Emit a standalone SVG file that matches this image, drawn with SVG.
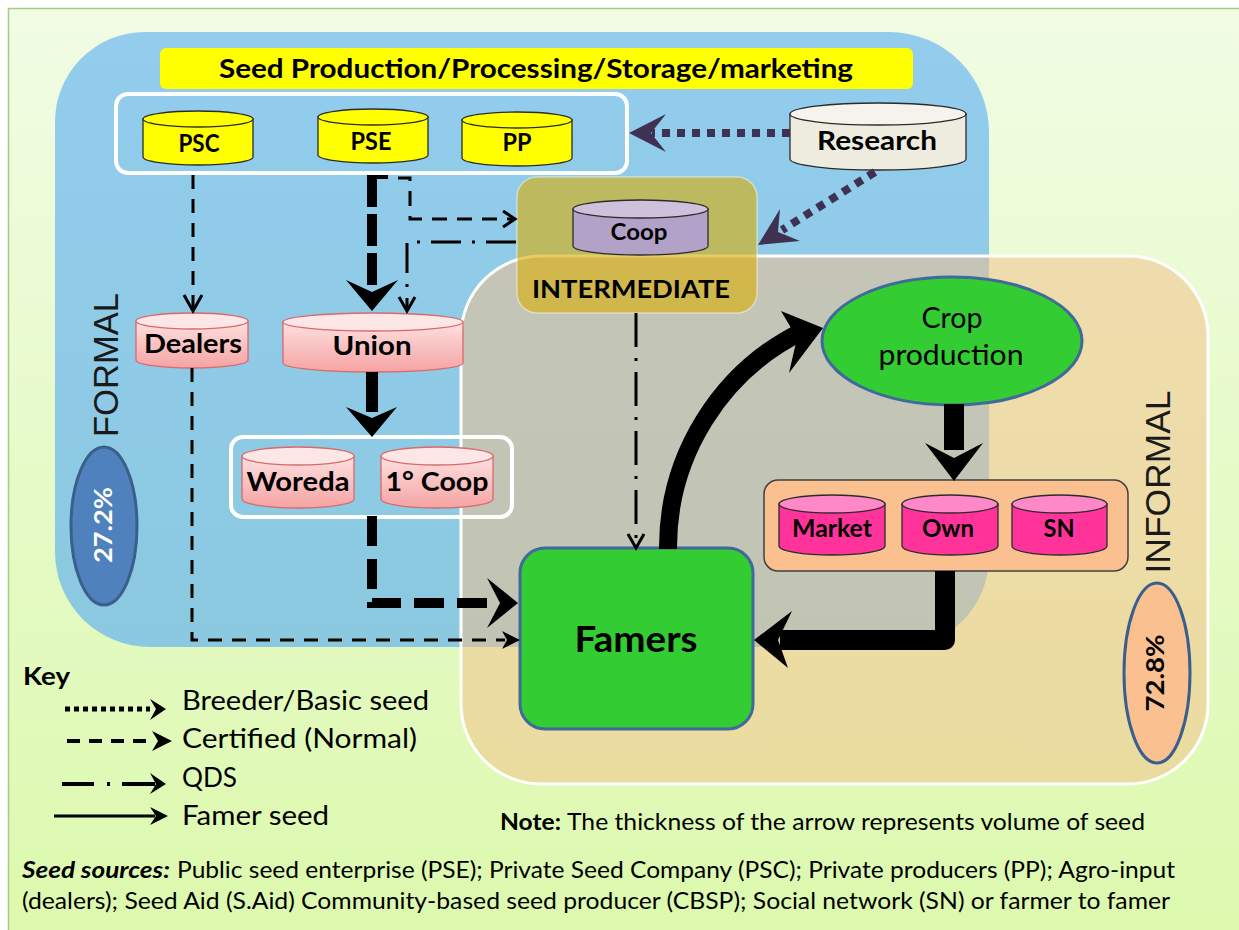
<svg xmlns="http://www.w3.org/2000/svg" width="1239" height="930" viewBox="0 0 1239 930">
  <defs>
    <linearGradient id="bg" x1="0" y1="0" x2="0" y2="1">
      <stop offset="0" stop-color="#f1fce4"/>
      <stop offset="1" stop-color="#dcf9ad"/>
    </linearGradient>
    <linearGradient id="blueFill" x1="0" y1="0" x2="0" y2="1">
      <stop offset="0" stop-color="#93cced"/>
      <stop offset="1" stop-color="#8bc9e0"/>
    </linearGradient>
    <linearGradient id="pinkBody" x1="0" y1="0" x2="0" y2="1">
      <stop offset="0" stop-color="#fde0e0"/>
      <stop offset="1" stop-color="#f6a3a3"/>
    </linearGradient>
    <style>
      .lbl { font-family: Lato, "Liberation Sans", sans-serif; font-weight: bold; fill: #000; text-anchor: middle; }
      .reg { font-family: Lato, "Liberation Sans", sans-serif; font-weight: normal; fill: #000; }
      .side { font-family: "Liberation Sans", Arial, sans-serif; font-weight: normal; fill: #1a1a1a; text-anchor: middle; }
      .yel { fill: #ffff00; stroke: #2b2b2b; stroke-width: 1.3; }
      .pinkB { fill: url(#pinkBody); stroke: #d86a6a; stroke-width: 1.3; }
      .pinkT { fill: #fde6e6; stroke: #d86a6a; stroke-width: 1.3; }
      .magB { fill: #ff3399; stroke: #2b2b2b; stroke-width: 1.3; }
      .magT { fill: #ff88c8; stroke: #2b2b2b; stroke-width: 1.3; }
      .ln { fill: none; stroke: #000; }
      .head { fill: #000; }
      .chev { fill: none; stroke: #000; stroke-width: 3; stroke-linejoin: miter; }
      .res { fill: none; stroke: #3f3151; stroke-width: 8; stroke-dasharray: 8 7; }
    </style>
  </defs>

  <!-- page background -->
  <rect x="0" y="0" width="1239" height="930" fill="#ffffff"/>
  <rect x="8.5" y="8.5" width="1240" height="930" fill="url(#bg)" stroke="#a3cc85" stroke-width="1.5"/>

  <!-- FORMAL region -->
  <g id="formal-region">
    <path d="M145 32 H889 A100 100 0 0 1 989 132 V557 A90 90 0 0 1 899 647 H150 A95 95 0 0 1 55 552 V122 A90 90 0 0 1 145 32 Z" fill="url(#blueFill)"/>
  </g>

  <!-- INFORMAL region (translucent, overlaps the formal one) -->
  <g id="informal-region">
    <rect x="461" y="256" width="747" height="528" rx="80" ry="80" fill="rgb(244,192,138)" fill-opacity="0.52" stroke="#ffffff" stroke-width="3"/>
  </g>

  <!-- INTERMEDIATE region -->
  <g id="intermediate">
    <rect x="517" y="177" width="240" height="136" rx="20" ry="20" fill="rgb(216,174,10)" fill-opacity="0.62" stroke="#ffffff" stroke-opacity="0.45" stroke-width="1.5"/>
    <text class="lbl" x="631" y="298" font-size="25" textLength="198" lengthAdjust="spacingAndGlyphs">INTERMEDIATE</text>
  </g>

  <!-- side labels -->
  <g id="formal-label">
    <text class="side" transform="translate(118,365) rotate(-90)" font-size="35" textLength="144" lengthAdjust="spacingAndGlyphs">FORMAL</text>
    <ellipse cx="104" cy="526" rx="33" ry="79" fill="#4f81bd" stroke="#3b5f8c" stroke-width="3"/>
    <text class="lbl" transform="translate(112,525) rotate(-90)" font-size="25" fill="#ffffff" style="fill:#ffffff" textLength="76" lengthAdjust="spacingAndGlyphs">27.2%</text>
  </g>
  <g id="informal-label">
    <text class="side" transform="translate(1170,482) rotate(-90)" font-size="35" textLength="183" lengthAdjust="spacingAndGlyphs">INFORMAL</text>
    <ellipse cx="1157" cy="673" rx="33" ry="90" fill="#fac090" stroke="#3b5f8c" stroke-width="3"/>
    <text class="lbl" transform="translate(1164,673) rotate(-90)" font-size="25" textLength="77" lengthAdjust="spacingAndGlyphs">72.8%</text>
  </g>

  <!-- title bar -->
  <g id="title">
    <rect x="160" y="48" width="753" height="41" rx="6" ry="6" fill="#ffff00"/>
    <text class="lbl" x="536" y="78" font-size="27" textLength="634" lengthAdjust="spacingAndGlyphs">Seed Production/Processing/Storage/marketing</text>
  </g>

  <!-- producers group -->
  <g id="producers">
    <rect x="116" y="94" width="511" height="79" rx="12" ry="12" fill="none" stroke="#ffffff" stroke-width="4"/>
    <g id="psc">
      <path class="yel" d="M143 119 V157 A55 8 0 0 0 253 157 V119 Z"/>
      <ellipse class="yel" cx="198" cy="119" rx="55" ry="8"/>
      <text class="lbl" x="199" y="152" font-size="25" textLength="41" lengthAdjust="spacingAndGlyphs">PSC</text>
    </g>
    <g id="pse">
      <path class="yel" d="M318 117 V155 A55 8 0 0 0 428 155 V117 Z"/>
      <ellipse class="yel" cx="373" cy="117" rx="55" ry="8"/>
      <text class="lbl" x="371" y="150" font-size="25" textLength="41" lengthAdjust="spacingAndGlyphs">PSE</text>
    </g>
    <g id="pp">
      <path class="yel" d="M462 120 V158 A55 8 0 0 0 572 158 V120 Z"/>
      <ellipse class="yel" cx="517" cy="120" rx="55" ry="8"/>
      <text class="lbl" x="517" y="151" font-size="25" textLength="29" lengthAdjust="spacingAndGlyphs">PP</text>
    </g>
  </g>

  <g id="research">
    <path d="M790 114 V159 A88 11 0 0 0 966 159 V114 Z" fill="#eeebdf" stroke="#2b2b2b" stroke-width="1.3"/>
    <ellipse cx="878" cy="114" rx="88" ry="11" fill="#f5f3ec" stroke="#2b2b2b" stroke-width="1.3"/>
    <text class="lbl" x="877" y="150" font-size="27" textLength="120" lengthAdjust="spacingAndGlyphs">Research</text>
  </g>

  <g id="coop">
    <path d="M573 209 V246 A67.5 9 0 0 0 708 246 V209 Z" fill="#b3a2c7" stroke="#2b2b2b" stroke-width="1.3"/>
    <ellipse cx="640.5" cy="209" rx="67.5" ry="9" fill="#cdc1dc" stroke="#2b2b2b" stroke-width="1.3"/>
    <text class="lbl" x="639" y="240" font-size="23" textLength="57" lengthAdjust="spacingAndGlyphs">Coop</text>
  </g>

  <g id="dealers">
    <path class="pinkB" d="M136 321 V360 A56 8 0 0 0 248 360 V321 Z"/>
    <ellipse class="pinkT" cx="192" cy="321" rx="56" ry="8"/>
    <text class="lbl" x="193" y="353" font-size="27" textLength="98" lengthAdjust="spacingAndGlyphs">Dealers</text>
  </g>

  <g id="union">
    <path class="pinkB" d="M283 322 V363 A90 9 0 0 0 463 363 V322 Z"/>
    <ellipse class="pinkT" cx="373" cy="322" rx="90" ry="9"/>
    <text class="lbl" x="372" y="355" font-size="27" textLength="79" lengthAdjust="spacingAndGlyphs">Union</text>
  </g>

  <g id="woreda-coop">
    <rect x="231" y="437" width="281" height="80" rx="12" ry="12" fill="none" stroke="#ffffff" stroke-width="4"/>
    <g id="woreda">
      <path class="pinkB" d="M242 456 V499 A56 9 0 0 0 354 499 V456 Z"/>
      <ellipse class="pinkT" cx="298" cy="456" rx="56" ry="9"/>
      <text class="lbl" x="298" y="491" font-size="27" textLength="103" lengthAdjust="spacingAndGlyphs">Woreda</text>
    </g>
    <g id="primary-coop">
      <path class="pinkB" d="M381 456 V499 A56 9 0 0 0 493 499 V456 Z"/>
      <ellipse class="pinkT" cx="437" cy="456" rx="56" ry="9"/>
      <text class="lbl" x="437" y="491" font-size="27" textLength="103" lengthAdjust="spacingAndGlyphs">1° Coop</text>
    </g>
  </g>

  <g id="crop-production">
    <ellipse cx="952" cy="341" rx="130" ry="64" fill="#33cc33" stroke="#41699a" stroke-width="3"/>
    <text class="reg" x="952" y="328" font-size="28" text-anchor="middle" textLength="61" lengthAdjust="spacingAndGlyphs">Crop</text>
    <text class="reg" x="951" y="365" font-size="28" text-anchor="middle" textLength="145" lengthAdjust="spacingAndGlyphs">production</text>
  </g>

  <g id="informal-sources">
    <rect x="764" y="480" width="364" height="91" rx="14" ry="14" fill="#fac090" stroke="#404040" stroke-width="1.5"/>
    <g id="market">
      <path class="magB" d="M779 504 V546 A53 9 0 0 0 885 546 V504 Z"/>
      <ellipse class="magT" cx="832" cy="504" rx="53" ry="9"/>
      <text class="lbl" x="832" y="537" font-size="24" textLength="80" lengthAdjust="spacingAndGlyphs">Market</text>
    </g>
    <g id="own">
      <path class="magB" d="M902 504 V546 A48 9 0 0 0 998 546 V504 Z"/>
      <ellipse class="magT" cx="950" cy="504" rx="48" ry="9"/>
      <text class="lbl" x="948" y="537" font-size="24" textLength="52" lengthAdjust="spacingAndGlyphs">Own</text>
    </g>
    <g id="sn">
      <path class="magB" d="M1012 504 V546 A47.5 9 0 0 0 1107 546 V504 Z"/>
      <ellipse class="magT" cx="1059.5" cy="504" rx="47.5" ry="9"/>
      <text class="lbl" x="1059" y="537" font-size="24" textLength="31" lengthAdjust="spacingAndGlyphs">SN</text>
    </g>
  </g>

  <g id="famers">
    <rect x="520" y="548" width="233" height="181" rx="25" ry="25" fill="#33cc33" stroke="#41699a" stroke-width="3"/>
    <text class="lbl" x="636" y="652" font-size="36" textLength="123" lengthAdjust="spacingAndGlyphs">Famers</text>
  </g>

  <!-- flows -->
  <g id="connectors">
    <!-- breeder / basic seed from research -->
    <line class="res" x1="790" y1="133" x2="652" y2="133"/>
    <polygon points="629,133 666,114 651,133 666,152" fill="#3f3151"/>
    <line class="res" x1="875" y1="172" x2="782" y2="230"/>
    <polygon points="758,245 780,209 778,232 800,241" fill="#3f3151"/>

    <!-- PSC to dealers (certified) -->
    <path class="ln" d="M193 175 V309" stroke-width="3" stroke-dasharray="14 10"/>
    <polyline class="chev" points="184,295 193,311 202,295"/>

    <!-- PSE to union (certified, high volume) -->
    <line class="ln" x1="367" y1="177" x2="388" y2="177" stroke-width="4"/>
    <path class="ln" d="M372 175 V292" stroke-width="10" stroke-dasharray="32 7"/>
    <polygon class="head" points="372,311 346,280 372,292 398,280"/>

    <!-- PSE to coop (certified) -->
    <path class="ln" d="M398 178 H410 V219 H512" stroke-width="3" stroke-dasharray="15 10"/>
    <polyline class="chev" points="503,211 515,219 503,227"/>

    <!-- coop to union (QDS) -->
    <path class="ln" d="M516 242 H407 V308" stroke-width="3" stroke-dasharray="30 11 3 11"/>
    <polyline class="chev" points="399,297 407,311 415,297"/>

    <!-- intermediate to famers (QDS) -->
    <path class="ln" d="M636 313 V545" stroke-width="3" stroke-dasharray="34 11 3 11"/>
    <polyline class="chev" points="628,534 636,548 644,534"/>

    <!-- union to woreda / primary coop -->
    <path class="ln" d="M372 372 V412" stroke-width="12"/>
    <polygon class="head" points="372,437 346,407 372,418 397,407"/>

    <!-- woreda / primary coop to famers -->
    <path class="ln" d="M372 516 V603 H495" stroke-width="10" stroke-dasharray="30 13"/>
    <polygon class="head" points="518,603 487,578 500,603 487,628"/>

    <!-- dealers to famers -->
    <path class="ln" d="M192 368 V640 H505" stroke-width="3" stroke-dasharray="14 10"/>
    <polygon class="head" points="520,640 502,631 507,640 502,649"/>

    <!-- famers to crop production (farmer seed) -->
    <path class="ln" d="M668 549 A241 241 0 0 1 803 331" stroke-width="18"/>
    <polygon class="head" points="823,328 781,311 797,338 789,373"/>

    <!-- crop production to market / own / SN -->
    <path class="ln" d="M954 404 V450" stroke-width="20"/>
    <polygon class="head" points="954,481 925,443 954,458 983,443"/>

    <!-- market / own / SN back to famers -->
    <path class="ln" d="M945 571 V640 H780" stroke-width="20" stroke-linejoin="round"/>
    <polygon class="head" points="754,640 792,611 778,640 788,668"/>
  </g>

  <!-- legend -->
  <g id="key">
    <text class="reg" x="23" y="685" font-size="25" font-weight="bold" style="font-weight:bold" textLength="47" lengthAdjust="spacingAndGlyphs">Key</text>

    <line class="ln" x1="65" y1="709" x2="150" y2="709" stroke-width="5" stroke-dasharray="5 4"/>
    <polygon class="head" points="150,699 166,709 150,720 156,709"/>
    <text class="reg" x="182" y="710" font-size="26" textLength="247" lengthAdjust="spacingAndGlyphs">Breeder/Basic seed</text>

    <line class="ln" x1="67" y1="741" x2="155" y2="741" stroke-width="4" stroke-dasharray="13 9"/>
    <polygon class="head" points="152,731 172,741 152,751 158,741"/>
    <text class="reg" x="182" y="748" font-size="26" textLength="235" lengthAdjust="spacingAndGlyphs">Certified (Normal)</text>

    <line class="ln" x1="62" y1="784" x2="94" y2="784" stroke-width="4"/>
    <line class="ln" x1="107" y1="784" x2="110" y2="784" stroke-width="4"/>
    <line class="ln" x1="122" y1="784" x2="155" y2="784" stroke-width="4"/>
    <polygon class="head" points="150,773 166,784 150,794 156,784"/>
    <text class="reg" x="182" y="787" font-size="26" textLength="55" lengthAdjust="spacingAndGlyphs">QDS</text>

    <line class="ln" x1="54" y1="816" x2="155" y2="816" stroke-width="3"/>
    <polygon class="head" points="150,807 168,816 150,825 156,816"/>
    <text class="reg" x="182" y="825" font-size="26" textLength="147" lengthAdjust="spacingAndGlyphs">Famer seed</text>
  </g>

  <!-- notes -->
  <g id="notes">
    <text class="reg" x="500" y="830" font-size="23" style="font-weight:bold" textLength="61" lengthAdjust="spacingAndGlyphs">Note:</text>
    <text class="reg" x="567" y="830" font-size="23" textLength="578" lengthAdjust="spacingAndGlyphs">The thickness of the arrow represents volume of seed</text>
    <text class="reg" x="22" y="878" font-size="23" style="font-weight:bold;font-style:italic" textLength="148" lengthAdjust="spacingAndGlyphs">Seed sources:</text>
    <text class="reg" x="177" y="878" font-size="23" textLength="998" lengthAdjust="spacingAndGlyphs">Public seed enterprise (PSE); Private Seed Company (PSC); Private producers (PP); Agro-input</text>
    <text class="reg" x="22" y="909" font-size="23" textLength="1148" lengthAdjust="spacingAndGlyphs">(dealers); Seed Aid (S.Aid) Community-based seed producer (CBSP); Social network (SN) or farmer to famer</text>
  </g>
</svg>
